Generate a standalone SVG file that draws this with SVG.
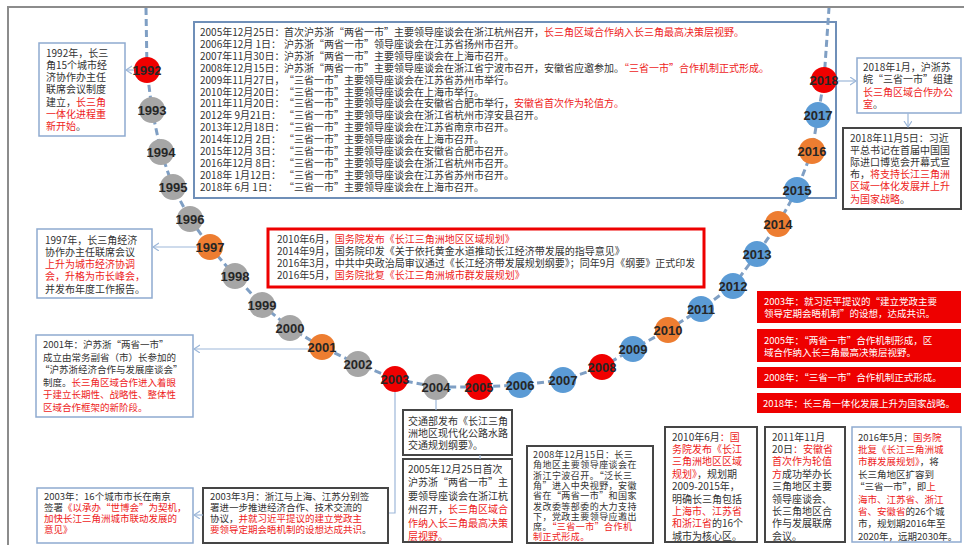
<svg xmlns="http://www.w3.org/2000/svg" width="964" height="545" viewBox="0 0 964 545">
<defs>
<style>
.t{font-family:"Noto Sans CJK SC","Noto Sans",sans-serif;font-size:10px;fill:#333}
.s{font-size:9.5px}
.xs{font-size:9px;letter-spacing:0.45px}
.r{fill:#ee1c1c}
.w{fill:#fff}
.bb{fill:#fff;stroke:#8eaad0;stroke-width:1.5}
.tb{fill:#fff;stroke:#6f8fb8;stroke-width:2}
.db{fill:#fff;stroke:#454545;stroke-width:2}
.ro{fill:#fff;stroke:#ee0000;stroke-width:3}
.rb{fill:#ee0000}
.yr{font-family:"Liberation Sans",Arial,sans-serif;font-weight:bold;font-size:13px;fill:#262626;text-anchor:middle}
.cn{fill:none;stroke:#9db7d9;stroke-width:1.2}
.tl{fill:none;stroke:#7f9fc4;stroke-width:3;stroke-dasharray:7 4}
.cr{fill:#f00000}.co{fill:#ed7d31}.cb{fill:#5b9bd5}.cg{fill:#a6a6a6}
</style>
<marker id="ah" markerWidth="8" markerHeight="9" refX="6" refY="4" orient="auto" markerUnits="userSpaceOnUse">
<path d="M0,0 L6,4 L0,8" fill="none" stroke="#9db7d9" stroke-width="1.2"/>
</marker>
</defs>
<rect width="964" height="545" fill="#fff"/>
<path d="M8,545 V7 H964" fill="none" stroke="#8c8c8c" stroke-width="2"/>

<g id="box-top">
<rect class="tb" x="194" y="22" width="642" height="176"/>
<text class="t">
<tspan x="200" y="36">2005年12月25日：</tspan><tspan x="284">首次沪苏浙“两省一市”主要领导座谈会在浙江杭州召开，</tspan><tspan class="r">长三角区域合作纳入长三角最高决策层视野。</tspan>
<tspan x="200" y="47.9">2006年12月 1日：</tspan><tspan x="284">沪苏浙“两省一市”领导座谈会在江苏省扬州市召开。</tspan>
<tspan x="200" y="59.8">2007年11月30日：</tspan><tspan x="284">沪苏浙“两省一市”主要领导座谈会在上海市召开。</tspan>
<tspan x="200" y="71.7">2008年12月15日：</tspan><tspan x="284">沪苏浙“两省一市”主要领导座谈会在浙江省宁波市召开，安徽省应邀参加。</tspan><tspan class="r">“三省一市”合作机制正式形成。</tspan>
<tspan x="200" y="83.6">2009年11月27日，</tspan><tspan x="284">“三省一市”主要领导座谈会在江苏省苏州市举行。</tspan>
<tspan x="200" y="95.5">2010年12月20日：</tspan><tspan x="284">“三省一市”主要领导座谈会在上海市举行。</tspan>
<tspan x="200" y="107.4">2011年11月20日：</tspan><tspan x="284">“三省一市”主要领导座谈会在安徽省合肥市举行，</tspan><tspan class="r">安徽省首次作为轮值方。</tspan>
<tspan x="200" y="119.3">2012年 9月21日：</tspan><tspan x="284">“三省一市”主要领导座谈会在浙江省杭州市淳安县召开。</tspan>
<tspan x="200" y="131.2">2013年12月18日：</tspan><tspan x="284">“三省一市”主要领导座谈会在江苏省南京市召开。</tspan>
<tspan x="200" y="143.1">2014年12月 2日：</tspan><tspan x="284">“三省一市”主要领导座谈会在上海市召开。</tspan>
<tspan x="200" y="155">2015年12月 3日：</tspan><tspan x="284">“三省一市”主要领导座谈会在安徽省合肥市召开。</tspan>
<tspan x="200" y="166.9">2016年12月 8日：</tspan><tspan x="284">“三省一市”主要领导座谈会在浙江省杭州市召开。</tspan>
<tspan x="200" y="178.8">2018年 1月12日：</tspan><tspan x="284">“三省一市”主要领导座谈会在江苏省苏州市召开。</tspan>
<tspan x="200" y="190.7">2018年 6月 1日：</tspan><tspan x="284">“三省一市”主要领导座谈会在上海市召开。</tspan>
</text>
</g>

<g id="box-plans">
<rect class="ro" x="268" y="229" width="436" height="58"/>
<text class="t">
<tspan x="277" y="243">2010年6月，</tspan><tspan class="r">国务院发布《长江三角洲地区区域规划》</tspan>
<tspan x="277" y="255">2014年9月，国务院印发《关于依托黄金水道推动长江经济带发展的指导意见》</tspan>
<tspan x="277" y="267">2016年3月，中共中央政治局审议通过《长江经济带发展规划纲要》；同年9月《纲要》正式印发</tspan>
<tspan x="277" y="279">2016年5月，</tspan><tspan class="r">国务院批复《长江三角洲城市群发展规划》</tspan>
</text>
</g>

<g id="box-1992">
<rect class="bb" x="39" y="43" width="86" height="93"/>
<text class="t">
<tspan x="46" y="56.5">1992年，长三</tspan>
<tspan x="46" y="68.8">角15个城市经</tspan>
<tspan x="46" y="81.1">济协作办主任</tspan>
<tspan x="46" y="93.4">联席会议制度</tspan>
<tspan x="46" y="105.7">建立，</tspan><tspan class="r">长三角</tspan>
<tspan x="46" y="118" class="r">一体化进程重</tspan>
<tspan x="46" y="130.3" class="r">新开始</tspan><tspan>。</tspan>
</text>
</g>

<g id="box-1997">
<rect class="bb" x="37" y="229" width="115" height="69"/>
<text class="t">
<tspan x="45" y="243.5">1997年，长三角经济</tspan>
<tspan x="45" y="255.8">协作办主任联席会议</tspan>
<tspan x="45" y="268.1" class="r">上升为城市经济协调</tspan>
<tspan x="45" y="280.4" class="r">会，升格为市长峰会，</tspan>
<tspan x="45" y="292.7">并发布年度工作报告。</tspan>
</text>
</g>

<g id="box-2001">
<rect class="bb" x="36" y="335" width="157" height="82"/>
<text class="t s">
<tspan x="43" y="348">2001年：沪苏浙“两省一市”</tspan>
<tspan x="43" y="360.5">成立由常务副省（市）长参加的</tspan>
<tspan x="40" y="373">“沪苏浙经济合作与发展座谈会”</tspan>
<tspan x="43" y="385.5">制度。</tspan><tspan class="r">长三角区域合作进入着眼</tspan>
<tspan x="43" y="398" class="r">于建立长期性、战略性、整体性</tspan>
<tspan x="43" y="410.5" class="r">区域合作框架的新阶段。</tspan>
</text>
</g>

<g id="box-2003-cities">
<rect class="bb" x="37" y="488" width="156" height="55"/>
<text class="t s">
<tspan x="44" y="499.5">2003年：16个城市市长在南京</tspan>
<tspan x="44" y="510.8">签署</tspan><tspan class="r">《以承办“世博会”为契机，</tspan>
<tspan x="44" y="522.1" class="r">加快长江三角洲城市联动发展的</tspan>
<tspan x="44" y="533.4" class="r">意见》</tspan>
</text>
</g>

<g id="box-2003-3">
<rect class="db" x="203" y="488" width="185" height="55"/>
<text class="t s">
<tspan x="210" y="499.5">2003年3月：浙江与上海、江苏分别签</tspan>
<tspan x="210" y="510.8">署进一步推进经济合作、技术交流的</tspan>
<tspan x="210" y="522.1">协议，</tspan><tspan class="r">并就习近平提议的建立党政主</tspan>
<tspan x="210" y="533.4" class="r">要领导定期会晤机制的设想达成共识</tspan><tspan>。</tspan>
</text>
</g>

<g id="box-transport">
<rect class="db" x="403" y="410" width="109" height="45"/>
<text class="t">
<tspan x="408" y="425">交通部发布《长江三角</tspan>
<tspan x="408" y="437">洲地区现代化公路水路</tspan>
<tspan x="408" y="449">交通规划纲要》。</tspan>
</text>
</g>

<g id="box-2005">
<rect class="db" x="403" y="459" width="109" height="83"/>
<text class="t">
<tspan x="408" y="472.5">2005年12月25日首次</tspan>
<tspan x="408" y="486">沪苏浙“两省一市”主</tspan>
<tspan x="408" y="499.5">要领导座谈会在浙江杭</tspan>
<tspan x="408" y="513">州召开，</tspan><tspan class="r">长三角区域合</tspan>
<tspan x="408" y="526.5" class="r">作纳入长三角最高决策</tspan>
<tspan x="408" y="540" class="r">层视野。</tspan>
</text>
</g>

<g id="box-2008">
<rect class="db" x="527" y="446" width="126" height="97"/>
<text class="t xs">
<tspan x="533" y="458">2008年12月15日：长三</tspan>
<tspan x="533" y="468.3">角地区主要领导座谈会在</tspan>
<tspan x="533" y="478.6">浙江宁波召开。“泛长三</tspan>
<tspan x="533" y="488.9">角”进入中央视野，安徽</tspan>
<tspan x="533" y="499.2">省在“两省一市”和国家</tspan>
<tspan x="533" y="509.5">发改委等部委的大力支持</tspan>
<tspan x="533" y="519.8">下，党政主要领导应邀出</tspan>
<tspan x="533" y="530.1">席。</tspan><tspan class="r">“三省一市”合作机</tspan>
<tspan x="533" y="540.4" class="r">制正式形成。</tspan>
</text>
</g>

<g id="box-2010">
<rect class="db" x="665" y="427" width="92" height="115"/>
<text class="t">
<tspan x="672" y="440.5">2010年6月</tspan><tspan class="r">：国</tspan>
<tspan x="672" y="452.9" class="r">务院发布《长江</tspan>
<tspan x="672" y="465.3" class="r">三角洲地区区域</tspan>
<tspan x="672" y="477.7" class="r">规划》</tspan><tspan>，规划期</tspan>
<tspan x="672" y="490.1">2009-2015年，</tspan>
<tspan x="672" y="502.5">明确长三角包括</tspan>
<tspan x="672" y="514.9" class="r">上海市、江苏省</tspan>
<tspan x="672" y="527.3" class="r">和浙江省</tspan><tspan>的16个</tspan>
<tspan x="672" y="539.7">城市为核心区。</tspan>
</text>
</g>

<g id="box-2011">
<rect class="db" x="765" y="427" width="80" height="115"/>
<text class="t">
<tspan x="772" y="440.5">2011年11月</tspan>
<tspan x="772" y="452.9">20日</tspan><tspan class="r">：安徽省</tspan>
<tspan x="772" y="465.3" class="r">首次作为轮值</tspan>
<tspan x="772" y="477.7" class="r">方</tspan><tspan>成功举办长</tspan>
<tspan x="772" y="490.1">三角地区主要</tspan>
<tspan x="772" y="502.5">领导座谈会、</tspan>
<tspan x="772" y="514.9">长三角地区合</tspan>
<tspan x="772" y="527.3">作与发展联席</tspan>
<tspan x="772" y="539.7">会议。</tspan>
</text>
</g>

<g id="box-2016">
<rect class="bb" x="852" y="427" width="109" height="115"/>
<text class="t s">
<tspan x="858" y="440.5">2016年5月：</tspan><tspan class="r">国务院</tspan>
<tspan x="858" y="452.9" class="r">批复《长江三角洲城</tspan>
<tspan x="858" y="465.3" class="r">市群发展规划》</tspan><tspan>，将</tspan>
<tspan x="858" y="477.7">长三角地区扩容到</tspan>
<tspan x="855" y="490.1">“三省一市”，即</tspan><tspan class="r">上</tspan>
<tspan x="858" y="502.5" class="r">海市、江苏省、浙江</tspan>
<tspan x="858" y="514.9" class="r">省、安徽省</tspan><tspan>的26个城</tspan>
<tspan x="858" y="527.3">市，规划期2016年至</tspan>
<tspan x="858" y="539.7">2020年，远期2030年。</tspan>
</text>
</g>

<g id="box-2018-1">
<rect class="bb" x="857" y="58" width="104" height="55"/>
<text class="t">
<tspan x="863" y="70.5">2018年1月，沪浙苏</tspan>
<tspan x="863" y="83">皖“三省一市”组建</tspan>
<tspan x="863" y="95.5" class="r">长三角区域合作办公</tspan>
<tspan x="863" y="108" class="r">室</tspan><tspan>。</tspan>
</text>
</g>

<g id="box-2018-11">
<rect class="db" x="843" y="128" width="118" height="81"/>
<text class="t">
<tspan x="850" y="141.5">2018年11月5日：习近</tspan>
<tspan x="850" y="153.7">平总书记在首届中国国</tspan>
<tspan x="850" y="165.9">际进口博览会开幕式宣</tspan>
<tspan x="850" y="178.1">布，</tspan><tspan class="r">将支持长江三角洲</tspan>
<tspan x="850" y="190.3" class="r">区域一体化发展并上升</tspan>
<tspan x="850" y="202.5" class="r">为国家战略</tspan><tspan>。</tspan>
</text>
</g>

<g id="key-2003">
<rect class="rb" x="757" y="291" width="204" height="32"/>
<text class="t w s">
<tspan x="764" y="304.5">2003年：就习近平提议的“建立党政主要</tspan>
<tspan x="764" y="316.5">领导定期会晤机制”的设想，达成共识。</tspan>
</text>
</g>
<g id="key-2005">
<rect class="rb" x="757" y="329" width="204" height="33"/>
<text class="t w s">
<tspan x="764" y="343.5">2005年：“两省一市”合作机制形成，区</tspan>
<tspan x="764" y="355.5">域合作纳入长三角最高决策层视野。</tspan>
</text>
</g>
<g id="key-2008">
<rect class="rb" x="757" y="367" width="204" height="21"/>
<text class="t w s" x="764" y="381">2008年：“三省一市”合作机制正式形成。</text>
</g>
<g id="key-2018">
<rect class="rb" x="757" y="393" width="204" height="20"/>
<text class="t w s" x="763" y="406.5">2018年：长三角一体化发展上升为国家战略。</text>
</g>

<g id="connectors">
<polyline class="tl" points="146,8 147,70 152,110 161,152 173,187 190,219 210,247 235,276 262,305 290,328 322,347 358,364 395,379 436,387 479,387 520,385 563,380 602,367 633,349 668,330 701,309 733,286 757,254 778,224 797,190 812,151 818,115 824,80 829,8"/>
<path class="cn" d="M135,70 H126" marker-end="url(#ah)"/>
<path class="cn" d="M198,247 H153" marker-end="url(#ah)"/>
<path class="cn" d="M309,349 H194" marker-end="url(#ah)"/>
<path class="cn" d="M395,392 V513 H389"/>
<path class="cn" d="M203,515 H194" marker-end="url(#ah)"/>
<path class="cn" d="M436,400 V410"/>
<path class="cn" d="M480,455 V459"/>
<path class="cn" d="M837,81 H856" marker-end="url(#ah)"/>
<path class="cn" d="M908,113 V127" marker-end="url(#ah)"/>
</g>

<g id="years">
<g id="y1992"><circle class="cr" cx="147" cy="70" r="13"/><text class="yr" x="147" y="74.5">1992</text></g>
<g id="y1993"><circle class="cg" cx="152" cy="110" r="13"/><text class="yr" x="152" y="114.5">1993</text></g>
<g id="y1994"><circle class="cg" cx="161" cy="152" r="13"/><text class="yr" x="161" y="156.5">1994</text></g>
<g id="y1995"><circle class="cg" cx="173" cy="187" r="13"/><text class="yr" x="173" y="191.5">1995</text></g>
<g id="y1996"><circle class="cg" cx="190" cy="219" r="13"/><text class="yr" x="190" y="223.5">1996</text></g>
<g id="y1997"><circle class="co" cx="210" cy="247" r="13"/><text class="yr" x="210" y="251.5">1997</text></g>
<g id="y1998"><circle class="cg" cx="235" cy="276" r="13"/><text class="yr" x="235" y="280.5">1998</text></g>
<g id="y1999"><circle class="cg" cx="262" cy="305" r="13"/><text class="yr" x="262" y="309.5">1999</text></g>
<g id="y2000"><circle class="cg" cx="290" cy="328" r="13"/><text class="yr" x="290" y="332.5">2000</text></g>
<g id="y2001"><circle class="co" cx="322" cy="347" r="13"/><text class="yr" x="322" y="351.5">2001</text></g>
<g id="y2002"><circle class="cg" cx="358" cy="364" r="13"/><text class="yr" x="358" y="368.5">2002</text></g>
<g id="y2003"><circle class="cr" cx="395" cy="379" r="13"/><text class="yr" x="395" y="383.5">2003</text></g>
<g id="y2004"><circle class="cg" cx="436" cy="387" r="13"/><text class="yr" x="436" y="391.5">2004</text></g>
<g id="y2005"><circle class="cr" cx="479" cy="387" r="13"/><text class="yr" x="479" y="391.5">2005</text></g>
<g id="y2006"><circle class="cb" cx="520" cy="385" r="13"/><text class="yr" x="520" y="389.5">2006</text></g>
<g id="y2007"><circle class="cb" cx="563" cy="380" r="13"/><text class="yr" x="563" y="384.5">2007</text></g>
<g id="y2008"><circle class="cr" cx="602" cy="367" r="13"/><text class="yr" x="602" y="371.5">2008</text></g>
<g id="y2009"><circle class="cb" cx="633" cy="349" r="13"/><text class="yr" x="633" y="353.5">2009</text></g>
<g id="y2010"><circle class="co" cx="668" cy="330" r="13"/><text class="yr" x="668" y="334.5">2010</text></g>
<g id="y2011"><circle class="cb" cx="701" cy="309" r="13"/><text class="yr" x="701" y="313.5">2011</text></g>
<g id="y2012"><circle class="cb" cx="733" cy="286" r="13"/><text class="yr" x="733" y="290.5">2012</text></g>
<g id="y2013"><circle class="cb" cx="757" cy="254" r="13"/><text class="yr" x="757" y="258.5">2013</text></g>
<g id="y2014"><circle class="co" cx="778" cy="224" r="13"/><text class="yr" x="778" y="228.5">2014</text></g>
<g id="y2015"><circle class="cb" cx="797" cy="190" r="13"/><text class="yr" x="797" y="194.5">2015</text></g>
<g id="y2016"><circle class="co" cx="812" cy="151" r="13"/><text class="yr" x="812" y="155.5">2016</text></g>
<g id="y2017"><circle class="cb" cx="818" cy="115" r="13"/><text class="yr" x="818" y="119.5">2017</text></g>
<g id="y2018"><circle class="cr" cx="824" cy="80" r="13"/><text class="yr" x="824" y="84.5">2018</text></g>
</g>
</svg>
